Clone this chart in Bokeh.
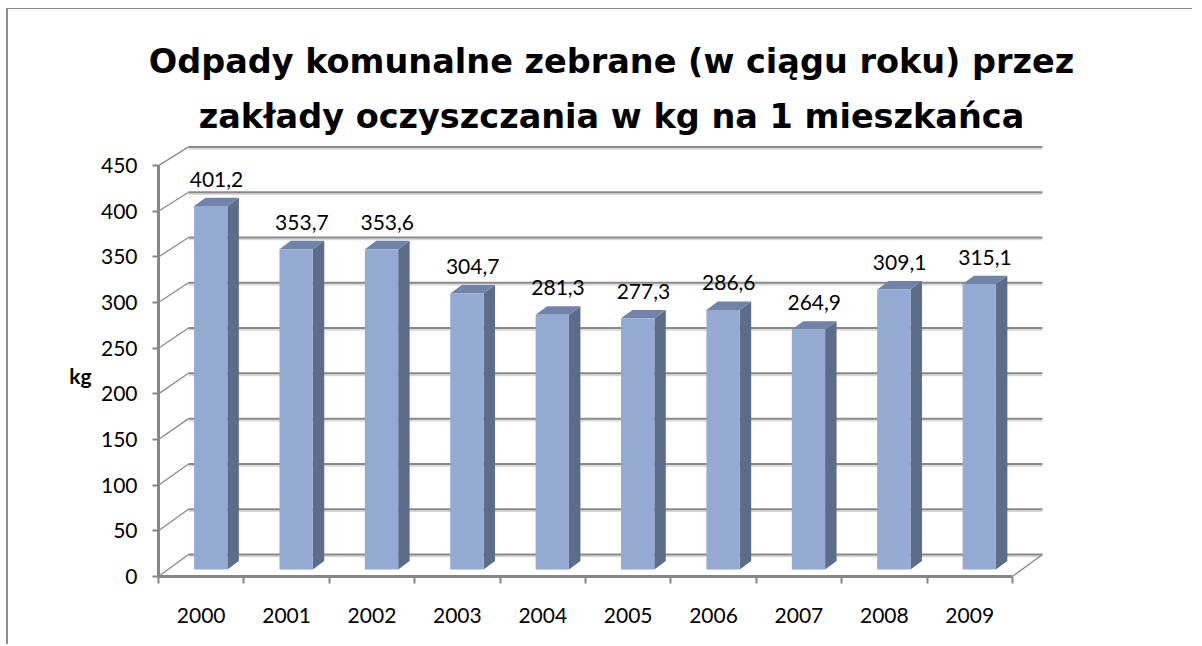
from bokeh.plotting import figure
from bokeh.models import Range1d, FixedTicker, Title, CustomJSTickFormatter, LinearAxis
from bokeh.core.properties import value
from bokeh.embed import file_html
from bokeh.resources import INLINE

# ---- data ----
years = ["2000", "2001", "2002", "2003", "2004", "2005", "2006", "2007", "2008", "2009"]
waste_kg = [401.2, 353.7, 353.6, 304.7, 281.3, 277.3, 286.6, 264.9, 309.1, 315.1]
y_ticks = [0, 50, 100, 150, 200, 250, 300, 350, 400, 450]
title_line1 = "Odpady komunalne zebrane (w ciągu roku) przez"
title_line2 = "zakłady oczyszczania w kg na 1 mieszkańca"
y_label = "kg"
y_label_at = 220

# ---- 3D projection style ----
DX, DY, K = 0.3513, 24.1, 0.992      # depth shift (x cat units, y value units), perspective scale
BAR_W, D0, D1 = 0.39, 0.318, 0.70    # bar width, front/back depth of bars
GRID = "#8a8a8a"
FRONT, SIDE, TOP = "#95aad2", "#5e6c8c", "#7183a8"
FONT = "Lato"
TITLE_FONT = "DejaVu Sans"


def proj(x, v, d):
    s = 1.0 if d == 0 else K
    return x + d * DX, v * s + d * DY


n = len(years)
p = figure(width=1186, height=636, output_backend="svg", toolbar_location=None,
           title_location=None,
           x_range=Range1d(0, 10.61), y_range=Range1d(0, 477.5),
           min_border_left=150, min_border_right=130, min_border_top=131, min_border_bottom=69)
p.margin = (8, 0, 0, 6)
p.styles = {"border-left": "2px solid #8c8c8c", "border-top": "1px solid #8c8c8c"}
p.outline_line_color = None
p.xgrid.grid_line_color = None
p.ygrid.grid_line_color = None
p.background_fill_color = "white"
p.border_fill_color = "white"

# ---- titles ----
t2 = Title(text=title_line2, align="center", text_font=TITLE_FONT, text_font_size="33.5px",
           text_font_style="bold", text_color="black", standoff=9)
t1 = Title(text=title_line1, align="center", text_font=TITLE_FONT, text_font_size="33.5px",
           text_font_style="bold", text_color="black", standoff=19)
p.add_layout(t2, "above")
p.add_layout(t1, "above")

# ---- back wall gridlines and side diagonals ----
gx0, gy0, gx1, gy1 = [], [], [], []
dx0, dy0, dx1, dy1 = [], [], [], []
for v in y_ticks:
    a = proj(0, v, 1)
    b = proj(n, v, 1)
    gx0.append(a[0]); gy0.append(a[1]); gx1.append(b[0]); gy1.append(b[1])
    f = proj(0, v, 0)
    dx0.append(f[0]); dy0.append(f[1]); dx1.append(a[0]); dy1.append(a[1])
f = proj(n, 0, 0); a = proj(n, 0, 1)
dx0.append(f[0]); dy0.append(f[1]); dx1.append(a[0]); dy1.append(a[1])

p.segment(gx0, [y - 2.0 for y in gy0], gx1, [y - 2.0 for y in gy1], line_color="#d9d9d9", line_width=2)
p.segment(gx0, gy0, gx1, gy1, line_color=GRID, line_width=2)
p.segment(dx0, dy0, dx1, dy1, line_color=GRID, line_width=1.3)

# ---- bars ----
fx, fy, sx, sy, tx, ty = [], [], [], [], [], []
lx, ly, lt = [], [], []
for i, v in enumerate(waste_kg):
    x0 = i + 0.5 - BAR_W / 2
    x1 = i + 0.5 + BAR_W / 2
    front = [proj(x0, 0, D0), proj(x1, 0, D0), proj(x1, v, D0), proj(x0, v, D0)]
    side = [proj(x1, 0, D0), proj(x1, 0, D1), proj(x1, v, D1), proj(x1, v, D0)]
    top = [proj(x0, v, D0), proj(x1, v, D0), proj(x1, v, D1), proj(x0, v, D1)]
    fx.append([q[0] for q in front]); fy.append([q[1] for q in front])
    sx.append([q[0] for q in side]); sy.append([q[1] for q in side])
    tx.append([q[0] for q in top]); ty.append([q[1] for q in top])
    c = proj(i + 0.5, v, (D0 + D1) / 2)
    lx.append(c[0]); ly.append(c[1] + 25)
    lt.append(f"{v:.1f}".replace(".", ","))

p.patches(sx, sy, fill_color=SIDE, line_color=None)
p.patches(tx, ty, fill_color=TOP, line_color=None)
p.patches(fx, fy, fill_color=FRONT, line_color=None)

p.text(lx, ly, text=lt, text_align="center", text_baseline="middle",
       text_font=value(FONT), text_font_size="21px", text_color="black")

# ---- axes ----
ya = p.yaxis[0]
ya.ticker = FixedTicker(ticks=y_ticks)
ya.bounds = (0, 450)
ya.axis_line_color = "#868686"
ya.axis_line_width = 3
ya.major_tick_out = 6
ya.major_tick_in = 0
ya.major_tick_line_color = "#868686"
ya.major_tick_line_width = 2
ya.minor_tick_line_color = None
ya.major_label_text_font = FONT
ya.major_label_text_font_size = "21px"
ya.major_label_text_color = "black"
ya.major_label_standoff = 15

# unit label "kg" as a second (label-only) axis on the left
ka = LinearAxis(ticker=FixedTicker(ticks=[y_label_at]),
                formatter=CustomJSTickFormatter(args=dict(t=y_label), code="return t"))
ka.axis_line_color = None
ka.major_tick_line_color = None
ka.minor_tick_line_color = None
ka.major_tick_out = 0
ka.major_tick_in = 0
ka.major_label_standoff = 6
ka.major_label_text_font = FONT
ka.major_label_text_font_size = "21px"
ka.major_label_text_font_style = "bold"
ka.major_label_text_color = "black"
p.add_layout(ka, "left")

xa = p.xaxis[0]
xa.ticker = FixedTicker(ticks=[i + 0.5 for i in range(n)], minor_ticks=list(range(n + 1)))
xa.formatter = CustomJSTickFormatter(args=dict(labels=years), code="return labels[Math.floor(tick)]")
xa.bounds = (0, n)
xa.axis_line_color = "#868686"
xa.axis_line_width = 3
xa.major_tick_line_color = None
xa.major_tick_out = 0
xa.major_tick_in = 0
xa.minor_tick_line_color = "#868686"
xa.minor_tick_line_width = 2
xa.minor_tick_out = 7
xa.minor_tick_in = 0
xa.major_label_text_font = FONT
xa.major_label_text_font_size = "21px"
xa.major_label_text_color = "black"
xa.major_label_standoff = 24

open("out.html", "w").write(file_html(p, INLINE))
